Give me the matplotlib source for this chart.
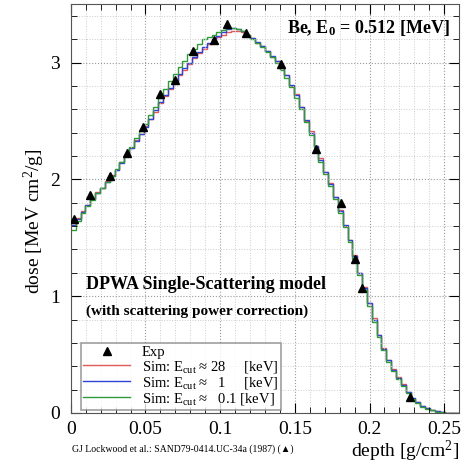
"""
dose vs depth, Be, E0 = 0.512 MeV
"""
import numpy as np
import matplotlib
matplotlib.use('Agg')
import matplotlib.pyplot as plt
from matplotlib.ticker import MultipleLocator

plt.rcParams['font.family'] = ['Liberation Serif', 'DejaVu Serif']
plt.rcParams['mathtext.fontset'] = 'custom'
plt.rcParams['mathtext.rm'] = 'Liberation Serif'
plt.rcParams['mathtext.it'] = 'Liberation Serif:italic'
plt.rcParams['mathtext.bf'] = 'Liberation Serif:bold'

# 实验点
exp_depth = [0.002, 0.013, 0.026, 0.0375, 0.048, 0.060, 0.070, 0.082, 0.096,
             0.1045, 0.117, 0.141, 0.164, 0.181, 0.190, 0.195, 0.227]
exp_dose = [1.66, 1.87, 2.03, 2.23, 2.45, 2.73, 2.85, 3.10, 3.19,
            3.33, 3.25, 2.99, 2.26, 1.80, 1.32, 1.07, 0.14]

# 模拟直方图 (80 bins, 0 - 0.26 g/cm2)
n_bins = 80
dose_blue = [1.61, 1.66, 1.72, 1.78, 1.83, 1.88, 1.93, 1.98, 2.03, 2.08,
             2.14, 2.20, 2.27, 2.33, 2.39, 2.45, 2.52, 2.59, 2.66, 2.72,
             2.78, 2.84, 2.90, 2.95, 3.00, 3.05, 3.09, 3.13, 3.17, 3.20,
             3.23, 3.26, 3.29, 3.30, 3.29, 3.27, 3.24, 3.21, 3.18, 3.14,
             3.10, 3.06, 3.01, 2.96, 2.89, 2.81, 2.72, 2.62, 2.51, 2.40,
             2.29, 2.17, 2.06, 1.96, 1.85, 1.73, 1.61, 1.48, 1.34, 1.20,
             1.07, 0.94, 0.80, 0.67, 0.55, 0.45, 0.37, 0.30, 0.24, 0.18,
             0.13, 0.09, 0.06, 0.04, 0.025, 0.014, 0.008, 0.004, 0.002, 0.001]
dose_red = [1.61, 1.67, 1.73, 1.78, 1.84, 1.89, 1.93, 1.99, 2.04, 2.08,
            2.15, 2.21, 2.27, 2.34, 2.39, 2.46, 2.52, 2.58, 2.65, 2.71,
            2.77, 2.83, 2.89, 2.94, 2.99, 3.04, 3.08, 3.12, 3.16, 3.19,
            3.22, 3.24, 3.26, 3.27, 3.27, 3.26, 3.24, 3.21, 3.17, 3.14,
            3.10, 3.05, 3.01, 2.95, 2.89, 2.80, 2.73, 2.62, 2.50, 2.41,
            2.29, 2.18, 2.06, 1.97, 1.85, 1.74, 1.60, 1.48, 1.35, 1.20,
            1.08, 0.94, 0.81, 0.67, 0.56, 0.45, 0.38, 0.31, 0.25, 0.18,
            0.13, 0.09, 0.06, 0.04, 0.025, 0.014, 0.008, 0.004, 0.002, 0.001]
dose_green = [1.57, 1.64, 1.71, 1.77, 1.82, 1.88, 1.93, 1.98, 2.03, 2.09,
              2.15, 2.21, 2.28, 2.35, 2.41, 2.47, 2.55, 2.62, 2.70, 2.77,
              2.84, 2.90, 2.96, 3.01, 3.07, 3.12, 3.16, 3.20, 3.22, 3.24,
              3.26, 3.28, 3.30, 3.30, 3.29, 3.27, 3.24, 3.20, 3.17, 3.13,
              3.09, 3.05, 3.00, 2.94, 2.87, 2.79, 2.70, 2.60, 2.49, 2.38,
              2.27, 2.15, 2.05, 1.94, 1.83, 1.71, 1.59, 1.46, 1.32, 1.18,
              1.05, 0.92, 0.78, 0.65, 0.54, 0.44, 0.36, 0.29, 0.23, 0.17,
              0.12, 0.085, 0.055, 0.035, 0.022, 0.012, 0.007, 0.003, 0.001, 0.0]

sim_labels = [r'Sim: E$_{\mathrm{cut}}$ ≈ 28     [keV]',
              r'Sim: E$_{\mathrm{cut}}$ ≈   1     [keV]',
              r'Sim: E$_{\mathrm{cut}}$ ≈   0.1 [keV]']
sim_colors = ['#e35a5a', '#2f43d6', '#2f9a3a']

edges = np.linspace(0, 0.26, n_bins + 1)

fig = plt.figure(figsize=(4.69, 4.63), dpi=100)
ax = fig.add_axes([0.151, 0.108, 0.828, 0.883])

for vals, col, lab in zip([dose_red, dose_blue, dose_green], sim_colors, sim_labels):
    ax.stairs(vals, edges, color=col, lw=1.0, label=lab, baseline=None)

ax.plot(exp_depth, exp_dose, '^', color='black', ms=5.5, ls='none', label='Exp', zorder=5)

ax.set_xlim(0, 0.26)
ax.set_ylim(0, 3.5)
ax.xaxis.set_major_locator(MultipleLocator(0.05))
ax.xaxis.set_minor_locator(MultipleLocator(0.01))
ax.yaxis.set_major_locator(MultipleLocator(1))
ax.yaxis.set_minor_locator(MultipleLocator(0.2))
ax.set_xticks([0, 0.05, 0.1, 0.15, 0.2, 0.25])
ax.set_xticklabels(['0', '0.05', '0.1', '0.15', '0.2', '0.25'])
ax.tick_params(which='both', direction='in', top=True, right=True, labelsize=14)
ax.tick_params(which='major', length=7)
ax.tick_params(which='minor', length=4)
ax.tick_params(axis='x', pad=6)
ax.tick_params(axis='y', pad=8)
ax.grid(which='major', ls=':', color='#999999', lw=0.8)
ax.grid(which='minor', ls=':', color='#cccccc', lw=0.7)
for s in ax.spines.values():
    s.set_color('#555555')

ax.set_xlabel(r'depth [g/cm$^{2}$]', fontsize=14, loc='right', labelpad=0)
ax.set_ylabel(r'dose [MeV cm$^{2}$/g]', fontsize=14)
ax.yaxis.set_label_coords(-0.062, 0.47)

ax.text(0.975, 0.965, r'Be, E$_{\mathbf{0}}$ = 0.512 [MeV]', transform=ax.transAxes,
        ha='right', va='top', fontsize=13, fontweight='bold')
ax.text(0.04, 0.315, 'DPWA Single-Scattering model', transform=ax.transAxes,
        ha='left', va='center', fontsize=13, fontweight='bold')
ax.text(0.04, 0.25, '(with scattering power correction)', transform=ax.transAxes,
        ha='left', va='center', fontsize=11, fontweight='bold')

h, l = ax.get_legend_handles_labels()
leg = ax.legend(h[::-1][:1] + h[:3], l[::-1][:1] + l[:3], loc='lower left',
                bbox_to_anchor=(0.025, 0.008), fontsize=10.5, frameon=True, fancybox=False,
                handlelength=3.2, labelspacing=0.0, borderpad=0.2, handletextpad=0.8,
                borderaxespad=0.0)
leg.get_frame().set_edgecolor('#888888')
leg.get_frame().set_linewidth(1.2)

fig.text(0.153, 0.02, 'GJ Lockwood et al.: SAND79-0414.UC-34a (1987) (▲)', fontsize=7,
         ha='left', va='bottom')

fig.savefig('out.png', dpi=100)
